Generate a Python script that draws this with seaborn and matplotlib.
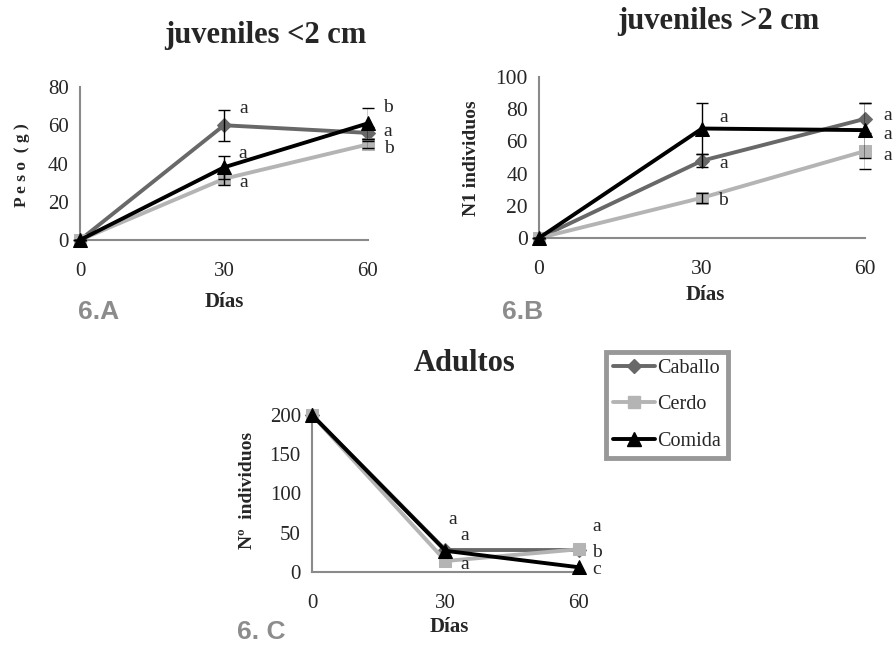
import numpy as np
import pandas as pd
import seaborn as sns
import matplotlib
matplotlib.use("Agg")
import matplotlib.pyplot as plt
from matplotlib.lines import Line2D

# ---------------- data ----------------
dias = [0, 30, 60]
tratamientos = ["Caballo", "Cerdo", "Comida"]

# Panel 6.A  juveniles <2 cm (Peso g)
a_caballo = [0, 60, 56]
a_cerdo = [0, 32, 50]
a_comida = [0, 38, 61]
a_err_caballo = [0, 8, 3]
a_err_cerdo = [0, 3, 2]
a_err_comida = [0, 6, 8]
a_letras = ["a", "a", "a", "b", "a", "b"]

# Panel 6.B  juveniles >2 cm (N individuos)
b_caballo = [0, 48, 74]
b_cerdo = [0, 25, 54]
b_comida = [0, 68, 67]
b_err_caballo = [0, 4, 10]
b_err_cerdo = [0, 3, 11]
b_err_comida = [0, 16, 17]
b_letras = ["a", "a", "b", "a", "a", "a"]

# Panel 6.C  Adultos (N individuos)
c_caballo = [200, 28, 28]
c_cerdo = [200, 14, 29]
c_comida = [200, 27, 6]
c_letras = ["a", "a", "a", "a", "b", "c"]

# ---------------- style ----------------
sns.set_theme(style="white")
plt.rcParams["font.family"] = ["Liberation Serif", "DejaVu Serif"]

colores = {"Caballo": "#686868", "Cerdo": "#b4b4b4", "Comida": "#000000"}
marcadores = {"Caballo": "D", "Cerdo": "s", "Comida": "^"}
tamanos = {"Caballo": 7, "Cerdo": 9, "Comida": 10}
spine_col = "#8a8a8a"

fig = plt.figure(figsize=(8.93, 6.46), dpi=100)
W, H = 893, 646


def px_axes(l, r, b, t):
    return fig.add_axes([l / W, 1 - b / H, (r - l) / W, (b - t) / H])


def make_df(c1, c2, c3):
    rows = []
    for name, vals in zip(tratamientos, [c1, c2, c3]):
        for d, v in zip(dias, vals):
            rows.append({"Días": d, "valor": v, "Tratamiento": name})
    return pd.DataFrame(rows)


def draw(ax, series, errs, ymax, ystep, fs):
    df = make_df(*series)
    for name in tratamientos:
        sub = df[df["Tratamiento"] == name]
        sns.lineplot(data=sub, x="Días", y="valor", ax=ax, color=colores[name],
                     marker=marcadores[name], markersize=tamanos[name],
                     markeredgecolor=colores[name], linewidth=2.8, legend=False,
                     zorder=3 if name == "Comida" else 2)
    if errs is not None:
        for vals, e in zip(series, errs):
            ax.errorbar(dias, vals, yerr=e, fmt="none", ecolor="black",
                        elinewidth=1.0, capsize=4, capthick=1.0, zorder=4)
    ax.set_xlim(0, 60)
    ax.set_ylim(0, ymax)
    ax.set_xticks(dias)
    ax.set_yticks(np.arange(0, ymax + 1, ystep))
    for s in ["top", "right"]:
        ax.spines[s].set_visible(False)
    for s in ["left", "bottom"]:
        ax.spines[s].set_color(spine_col)
        ax.spines[s].set_linewidth(1.5)
    ax.tick_params(axis="x", direction="out", length=6, width=1.2,
                   color=spine_col, pad=10, labelsize=fs)
    ax.tick_params(axis="y", direction="out", length=5, width=1.2,
                   color=spine_col, pad=3, labelsize=fs)
    ax.set_xlabel("")
    ax.set_ylabel("")
    for line in ax.lines:
        line.set_clip_on(False)


# Panel A
axA = px_axes(80, 368, 240, 87)
draw(axA, [a_caballo, a_cerdo, a_comida],
     [a_err_caballo, a_err_cerdo, a_err_comida], 80, 20, 15)
posA = [(34, 69), (33.8, 45), (34, 30), (64.2, 69.5), (64.2, 56.5), (64.4, 48)]
for (x, y), t in zip(posA, a_letras):
    axA.text(x, y, t, ha="center", va="center", fontsize=14, clip_on=False)

# Panel B
axB = px_axes(539, 865, 238, 77)
draw(axB, [b_caballo, b_cerdo, b_comida],
     [b_err_caballo, b_err_cerdo, b_err_comida], 100, 20, 15.5)
posB = [(33.9, 75), (33.9, 46.5), (33.9, 23.6), (64.1, 76), (64.1, 64), (64.1, 51.5)]
for (x, y), t in zip(posB, b_letras):
    axB.text(x, y, t, ha="center", va="center", fontsize=14, clip_on=False)

# Panel C
axC = px_axes(312, 579, 572, 415)
draw(axC, [c_caballo, c_cerdo, c_comida], None, 200, 50, 15)
posC = [(31.7, 67), (34.4, 47), (34.4, 10), (64, 58), (64, 24.5), (64, 3)]
for (x, y), t in zip(posC, c_letras):
    axC.text(x, y, t, ha="center", va="center", fontsize=14, clip_on=False)

# titles
fig.text(265 / W, 1 - 35 / H, "juveniles <2 cm", ha="center", va="center",
         fontsize=22, fontweight="bold")
fig.text(718 / W, 1 - 22 / H, "juveniles >2 cm", ha="center", va="center",
         fontsize=22, fontweight="bold")
fig.text(465 / W, 1 - 363 / H, "Adultos", ha="center", va="center",
         fontsize=22, fontweight="bold")

# axis labels
fig.text(224 / W, 1 - 302 / H, "Días", ha="center", va="center",
         fontsize=15, fontweight="bold")
fig.text(705 / W, 1 - 295 / H, "Días", ha="center", va="center",
         fontsize=15, fontweight="bold")
fig.text(449 / W, 1 - 627 / H, "Días", ha="center", va="center",
         fontsize=15, fontweight="bold")
fig.text(22 / W, 1 - 165 / H, "P e s o  ( g )", ha="center", va="center",
         rotation=90, fontsize=12.5, fontweight="bold")
fig.text(472 / W, 1 - 158 / H, "N1 individuos", ha="center", va="center",
         rotation=90, fontsize=14, fontweight="bold")
fig.text(247 / W, 1 - 490 / H, "Nº  individuos", ha="center", va="center",
         rotation=90, fontsize=14, fontweight="bold")

# panel tags
for x, y, t in [(78, 312, "6.A"), (502, 312, "6.B"), (237, 632, "6. C")]:
    fig.text(x / W, 1 - y / H, t, ha="left", va="center", fontsize=19,
             fontweight="bold", color="#8c8c8c", family="Liberation Sans")

# legend
handles = [Line2D([0], [0], color=colores[n], marker=marcadores[n],
                  markersize=tamanos[n], markeredgecolor=colores[n],
                  linewidth=2.8, label=n) for n in tratamientos]
leg = fig.legend(handles=handles, loc="upper left",
                 bbox_to_anchor=(606 / W, 1 - 352 / H), fontsize=14.5,
                 frameon=True, fancybox=False, handlelength=2.1,
                 handletextpad=0.1, labelspacing=0.85, borderpad=0.35,
                 borderaxespad=0)
leg.get_frame().set_edgecolor("#7f7f7f")
leg.get_frame().set_linewidth(3.5)

fig.savefig("out.png", dpi=100)
